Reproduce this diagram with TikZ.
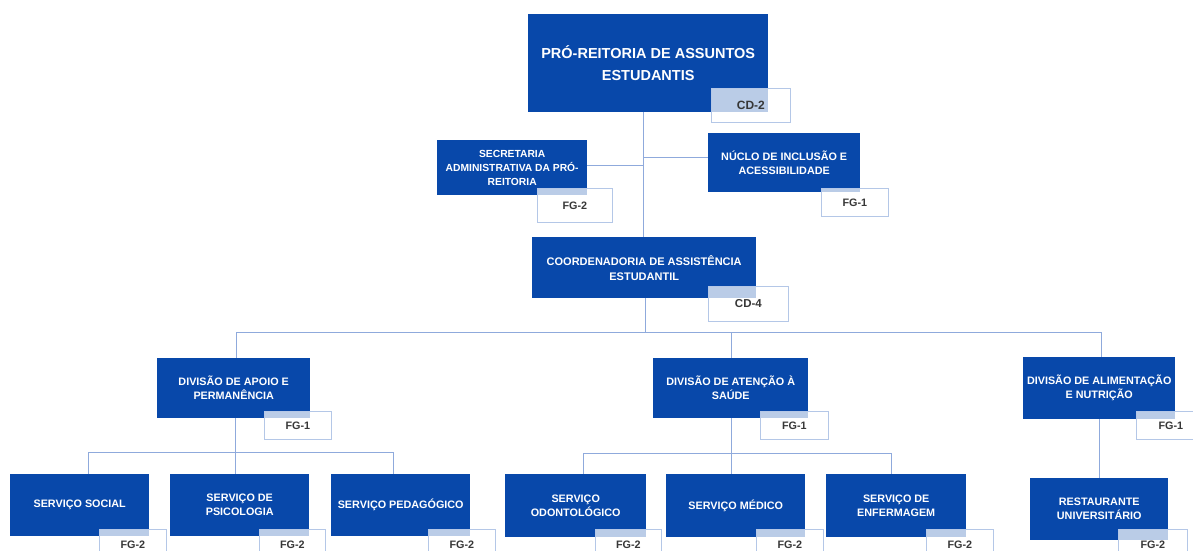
\documentclass[tikz,border=0pt]{standalone}
\usepackage{fontspec}
\setmainfont{Liberation Sans}
\definecolor{boxblue}{RGB}{8,72,170}
\definecolor{linec}{RGB}{143,170,220}
\definecolor{tagborder}{RGB}{180,199,231}
\definecolor{tagtext}{RGB}{55,55,55}
\tikzset{
  orgbox/.style={fill=boxblue, text=white, align=center, inner sep=0pt, anchor=north west,
    font=\bfseries\fontsize{10.8}{14}\selectfont},
  tagbox/.style={fill=white, fill opacity=0.72, text opacity=1, draw=tagborder, line width=0.8pt,
    text=tagtext, inner sep=0pt, anchor=north west, font=\bfseries\fontsize{10.8}{12}\selectfont},
  conn/.style={draw=linec, line width=0.9pt}
}
\begin{document}
\begin{tikzpicture}[x=1pt,y=-1pt]
\useasboundingbox (0,0) rectangle (1193,551);
% ---------- boxes ----------
\node[orgbox, minimum width=240pt, minimum height=98pt, font=\bfseries\fontsize{14.5}{22}\selectfont] (pro) at (528,14) {PRÓ-REITORIA DE ASSUNTOS\\ESTUDANTIS};
\node[orgbox, minimum width=150pt, minimum height=55pt, font=\bfseries\fontsize{10.3}{14}\selectfont] (sec) at (437,140) {SECRETARIA\\ADMINISTRATIVA DA PRÓ-\\REITORIA};
\node[orgbox, minimum width=152pt, minimum height=59pt] (nuc) at (708,133) {NÚCLO DE INCLUSÃO E\\ACESSIBILIDADE};
\node[orgbox, minimum width=224pt, minimum height=61pt, font=\bfseries\fontsize{11}{15}\selectfont] (coord) at (532,237) {COORDENADORIA DE ASSISTÊNCIA\\ESTUDANTIL};
\node[orgbox, minimum width=153pt, minimum height=60pt] (apoio) at (157,358) {DIVISÃO DE APOIO E\\PERMANÊNCIA};
\node[orgbox, minimum width=155pt, minimum height=60pt] (atenc) at (653,358) {DIVISÃO DE ATENÇÃO À\\SAÚDE};
\node[orgbox, minimum width=152pt, minimum height=62pt] (alim) at (1023,357) {DIVISÃO DE ALIMENTAÇÃO\\E NUTRIÇÃO};
\node[orgbox, minimum width=139pt, minimum height=62pt] (social) at (10,474) {SERVIÇO SOCIAL};
\node[orgbox, minimum width=139pt, minimum height=62pt] (psico) at (170,474) {SERVIÇO DE\\PSICOLOGIA};
\node[orgbox, minimum width=139pt, minimum height=62pt] (pedag) at (331,474) {SERVIÇO PEDAGÓGICO};
\node[orgbox, minimum width=141pt, minimum height=63pt] (odonto) at (505,474) {SERVIÇO\\ODONTOLÓGICO};
\node[orgbox, minimum width=139pt, minimum height=63pt] (medico) at (666,474) {SERVIÇO MÉDICO};
\node[orgbox, minimum width=140pt, minimum height=63pt] (enferm) at (826,474) {SERVIÇO DE\\ENFERMAGEM};
\node[orgbox, minimum width=138pt, minimum height=62pt] (rest) at (1030,478) {RESTAURANTE\\UNIVERSITÁRIO};
% ---------- connector coordinates ----------
\coordinate (trunk) at (643,0);
\coordinate (secj) at (643,165);
\coordinate (nucj) at (643,157);
\coordinate (bus) at (645,332);
\coordinate (busL) at (236,332);
\coordinate (busM) at (731,332);
\coordinate (busR) at (1101,332);
\coordinate (b1) at (235,452);
\coordinate (b1L) at (88,452);
\coordinate (b1R) at (393,452);
\coordinate (b2) at (731,453);
\coordinate (b2L) at (583,453);
\coordinate (b2R) at (891,453);
\coordinate (b3) at (1099,0);
% ---------- connectors ----------
\begin{scope}[on background layer/.style={}]
\draw[conn] (pro.south -| trunk) -- (coord.north -| trunk);
\draw[conn] (secj -| sec.east) -- (secj);
\draw[conn] (nucj) -- (nucj -| nuc.west);
\draw[conn] (coord.south -| bus) -- (bus);
\draw[conn] (busL) -- (busR);
\draw[conn] (busL) -- (apoio.north -| busL);
\draw[conn] (busM) -- (atenc.north -| busM);
\draw[conn] (busR) -- (alim.north -| busR);
\draw[conn] (apoio.south -| b1) -- (b1);
\draw[conn] (b1L) -- (b1R);
\draw[conn] (b1L) -- (social.north -| b1L);
\draw[conn] (b1) -- (psico.north -| b1);
\draw[conn] (b1R) -- (pedag.north -| b1R);
\draw[conn] (atenc.south -| b2) -- (b2);
\draw[conn] (b2L) -- (b2R);
\draw[conn] (b2L) -- (odonto.north -| b2L);
\draw[conn] (b2) -- (medico.north -| b2);
\draw[conn] (b2R) -- (enferm.north -| b2R);
\draw[conn] (alim.south -| b3) -- (rest.north -| b3);
\end{scope}
% ---------- tags ----------
\node[tagbox, minimum width=79pt, minimum height=34pt, font=\bfseries\fontsize{12}{12}\selectfont] (tpro) at (711,88) {CD-2};
\node[tagbox, minimum width=75pt, minimum height=34pt] (tsec) at (537,188) {FG-2};
\node[tagbox, minimum width=67pt, minimum height=28pt] (tnuc) at (821,188) {FG-1};
\node[tagbox, minimum width=80pt, minimum height=35pt, font=\bfseries\fontsize{11.5}{12}\selectfont] (tcoord) at (708,286) {CD-4};
\node[tagbox, minimum width=67pt, minimum height=28pt] (tapoio) at (264,411) {FG-1};
\node[tagbox, minimum width=68pt, minimum height=28pt] (tatenc) at (760,411) {FG-1};
\node[tagbox, minimum width=69pt, minimum height=28pt] (talim) at (1136,411) {FG-1};
\node[tagbox, minimum width=67pt, minimum height=30pt] (tsocial) at (99,529) {FG-2};
\node[tagbox, minimum width=66pt, minimum height=30pt] (tpsico) at (259,529) {FG-2};
\node[tagbox, minimum width=67pt, minimum height=30pt] (tpedag) at (428,529) {FG-2};
\node[tagbox, minimum width=66pt, minimum height=30pt] (todonto) at (595,529) {FG-2};
\node[tagbox, minimum width=67pt, minimum height=30pt] (tmedico) at (756,529) {FG-2};
\node[tagbox, minimum width=67pt, minimum height=30pt] (tenferm) at (926,529) {FG-2};
\node[tagbox, minimum width=69pt, minimum height=30pt] (trest) at (1118,529) {FG-2};
\end{tikzpicture}
\end{document}
